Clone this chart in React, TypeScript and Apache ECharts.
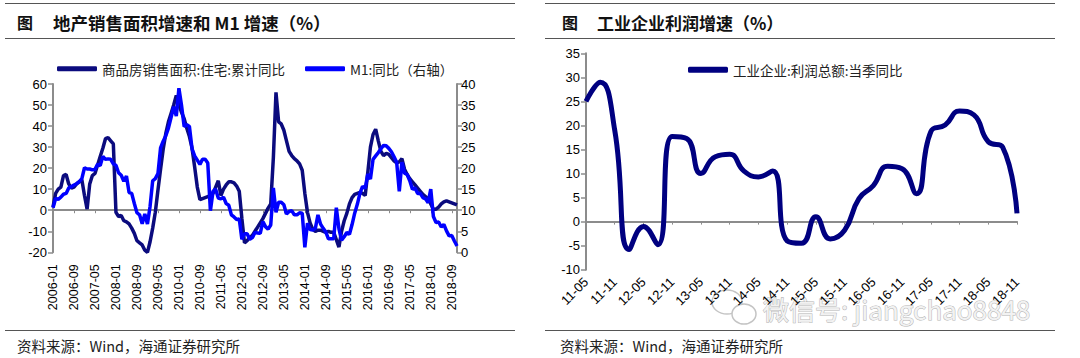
import React, { useEffect, useRef } from "react";
import * as echarts from "echarts";

// ---------- Left chart: 地产销售面积增速 & M1 ----------
const YEARS = ["2006", "2007", "2008", "2009", "2010", "2011", "2012", "2013", "2014", "2015", "2016", "2017", "2018"];
const LAST_MONTH_2018 = 11;
const monthCats: string[] = [];
YEARS.forEach((y) => {
  const n = y === "2018" ? LAST_MONTH_2018 : 12;
  for (let m = 1; m <= n; m++) monthCats.push(`${y}-${m < 10 ? "0" + m : m}`);
});

const DARK_NAME = "商品房销售面积:住宅:累计同比";
const BLUE_NAME = "M1:同比（右轴）";

// 商品房销售面积:住宅:累计同比 (%), left axis
const salesArea = [
  1.5, 8, 10, 11, 16.5, 17, 12.5, 10.5, 11, 12.5, 13.5, 14.5, // 2006
  7, 0.5, 12.5, 16.5, 17.5, 21.5, 25.5, 29.5, 34, 34.5, 33, 31.5, // 2007
  -1, -3, -2.5, -5, -5.5, -6.5, -8.5, -11, -14.5, -15.5, -16.5, -19, // 2008
  -20, -15, -8.5, -1, 9.5, 19.5, 29, 36.5, 42, 46, 50, 54.5, // 2009
  50, 46.5, 43.5, 39, 35, 29.5, 20.5, 11, 5, 5.5, 6, 6.5, // 2010
  7, 8, 11, 14, 7, 10, 12, 13.5, 13.5, 13, 11.5, 9, // 2011
  -4, -15.5, -14.5, -13, -12, -10, -8, -6, -4, -1.5, 1, 3, // 2012
  25, 56, 42, 41, 38, 33, 28, 26, 24.5, 23.5, 22, 19, // 2013
  8, -1, -6, -9, -10, -9.5, -9.5, -10, -10.5, -10, -10.5, -10.5, // 2014
  -14, -17.5, -10, -5, -1.5, 3, 6, 7.5, 8, 8.5, 8, 7, // 2015
  18, 30, 36, 38.5, 33, 28, 26, 27, 26.5, 25, 23.5, 22.5, // 2016
  23, 24.5, 19.5, 17, 15, 13.5, 12, 10.5, 9, 7.5, 6.5, 5.5, // 2017
  3, 0.5, 0.5, 1.5, 3, 4, 4.5, 4, 3.5, 3, 2.5, // 2018
];

// M1:同比 (%), right axis
const m1Yoy = [
  10.6, 12.8, 12.6, 13.1, 13.8, 14.0, 15.3, 15.6, 16.0, 16.3, 16.8, 17.5, // 2006
  20.1, 19.8, 19.8, 19.6, 19.7, 20.9, 20.6, 22.8, 22.1, 22.2, 22.1, 21.0, // 2007
  20.7, 18.9, 18.3, 16.9, 18.1, 14.2, 14.0, 11.6, 9.4, 8.9, 6.8, 9.1, // 2008
  6.7, 10.9, 17.0, 17.5, 18.7, 24.8, 26.4, 27.7, 29.5, 32.0, 34.6, 32.4, // 2009
  39.0, 34.9, 29.9, 30.3, 29.9, 24.6, 22.9, 21.9, 20.9, 22.1, 22.1, 21.2, // 2010
  9.9, 14.5, 15.0, 12.9, 12.7, 13.1, 11.6, 11.2, 8.9, 8.4, 7.8, 7.9, // 2011
  3.1, 4.4, 4.4, 3.1, 3.5, 4.7, 4.6, 4.5, 7.3, 6.1, 5.5, 6.5, // 2012
  15.3, 9.5, 11.9, 11.9, 11.3, 9.1, 9.7, 9.9, 8.9, 8.9, 9.4, 9.3, // 2013
  1.2, 6.9, 5.4, 5.3, 5.7, 8.9, 6.7, 5.7, 4.8, 3.2, 3.2, 3.2, // 2014
  10.6, 5.6, 2.9, 3.7, 4.7, 4.3, 6.6, 9.3, 11.4, 14.0, 15.7, 15.2, // 2015
  18.6, 17.4, 22.1, 22.9, 23.7, 24.6, 25.4, 25.3, 24.7, 23.9, 22.7, 21.4, // 2016
  14.5, 21.4, 18.8, 18.5, 17.0, 15.0, 15.3, 14.0, 14.0, 13.0, 12.7, 11.8, // 2017
  15.0, 8.5, 7.1, 7.2, 6.0, 6.6, 5.1, 3.9, 4.0, 2.7, 1.5, // 2018
];

// ---------- Right chart: 工业企业利润增速 ----------
const PROFIT_NAME = "工业企业:利润总额:当季同比";
const quarterCats = [
  "11-05", "11-08", "11-11", "12-02", "12-05", "12-08", "12-11", "13-02",
  "13-05", "13-08", "13-11", "14-02", "14-05", "14-08", "14-11", "15-02",
  "15-05", "15-08", "15-11", "16-02", "16-05", "16-08", "16-11", "17-02",
  "17-05", "17-08", "17-11", "18-02", "18-05", "18-08", "18-11",
];
const profitYoy = [
  25, 29, 19, -5.8, -1, -4.8, 17.7, 17.3, 10, 13.5, 14, 10.5, 9.3, 10.5, -4, -4.5,
  1, -3.6, -1.8, 4.8, 7.5, 11.5, 11, 5.8, 18.7, 20.1, 23, 22.2, 16.6, 15.5, 1.7,
];

const LEFT_TITLE = "地产销售面积增速和 M1 增速（%）";
const RIGHT_TITLE = "工业企业利润增速（%）";
const SOURCE = "资料来源：Wind，海通证券研究所";
const WATERMARK = "微信号: jiangchao8848";

const FONT = "'Liberation Sans', Arial, 'Noto Sans CJK SC', sans-serif";
const CJK = "'Noto Sans CJK SC', 'Liberation Sans', sans-serif";
const AXIS_GRAY = "#8c8c8c";
const DARK = "#0b0b7e";
const BLUE = "#0000ff";
const NAVY = "#000080";

export default function App() {
  const ref = useRef<HTMLDivElement>(null);
  useEffect(() => {
    if (!ref.current) return;
    const chart = echarts.init(ref.current, undefined, { renderer: "svg" });

    const valueAxisCommon = {
      type: "value",
      axisLine: { show: true, lineStyle: { color: AXIS_GRAY, width: 2 } },
      axisTick: { show: true, length: 5, lineStyle: { color: AXIS_GRAY, width: 1.5 } },
      splitLine: { show: false },
      axisLabel: { fontSize: 13, color: "#000", fontFamily: FONT, margin: 6 },
    };

    const hline = (x1: number, x2: number, y: number, w = 1) => ({
      type: "line",
      shape: { x1, y1: y, x2, y2: y },
      style: { stroke: "#555", lineWidth: w },
      silent: true,
    });

    const option: any = {
      animation: false,
      backgroundColor: "#fff",
      textStyle: { fontFamily: FONT },
      grid: [
        { left: 53, top: 84, width: 404, height: 168.3 },
        { left: 586, top: 53.3, width: 431, height: 216.4 },
      ],
      legend: [
        {
          left: 57, top: 62, padding: 0, itemWidth: 40, itemHeight: 5, icon: "roundRect",
          data: [DARK_NAME], textStyle: { fontSize: 13.5, color: "#222", fontFamily: CJK },
        },
        {
          left: 305, top: 62, padding: 0, itemWidth: 40, itemHeight: 5, icon: "roundRect",
          data: [BLUE_NAME], textStyle: { fontSize: 13.5, color: "#222", fontFamily: CJK },
        },
        {
          left: 688, top: 63, padding: 0, itemWidth: 40, itemHeight: 6, icon: "roundRect",
          data: [PROFIT_NAME], textStyle: { fontSize: 13.5, color: "#222", fontFamily: CJK },
        },
      ],
      xAxis: [
        {
          type: "category", gridIndex: 0, data: monthCats, boundaryGap: false, position: "bottom",
          axisLine: { show: false, onZero: false }, axisTick: { show: false },
          axisLabel: { interval: 7, rotate: 90, margin: 12, fontSize: 12.5, color: "#000", fontFamily: FONT },
        },
        {
          type: "category", gridIndex: 0, data: monthCats, boundaryGap: false, position: "top",
          axisLine: { show: true, onZero: true, onZeroAxisIndex: 0, lineStyle: { color: AXIS_GRAY, width: 2 } },
          axisTick: { show: true, interval: 7, inside: true, length: 3, lineStyle: { color: AXIS_GRAY } },
          axisLabel: { show: false },
        },
        {
          type: "category", gridIndex: 1, data: quarterCats, boundaryGap: false, position: "bottom",
          axisLine: { show: false, onZero: false }, axisTick: { show: false },
          axisLabel: { interval: 1, rotate: 45, margin: 10, fontSize: 13, color: "#000", fontFamily: FONT },
        },
        {
          type: "category", gridIndex: 1, data: quarterCats, boundaryGap: false, position: "top",
          axisLine: { show: true, onZero: true, onZeroAxisIndex: 2, lineStyle: { color: AXIS_GRAY, width: 2 } },
          axisTick: { show: true, interval: 1, inside: true, length: 3, lineStyle: { color: AXIS_GRAY } },
          axisLabel: { show: false },
        },
      ],
      yAxis: [
        { ...valueAxisCommon, gridIndex: 0, position: "left", min: -20, max: 60, interval: 10 },
        { ...valueAxisCommon, gridIndex: 0, position: "right", min: 0, max: 40, interval: 5, axisLabel: { ...valueAxisCommon.axisLabel, margin: 4 } },
        { ...valueAxisCommon, gridIndex: 1, position: "left", min: -10, max: 35, interval: 5 },
      ],
      series: [
        {
          name: DARK_NAME, type: "line", xAxisIndex: 0, yAxisIndex: 0, data: salesArea,
          symbol: "none", lineStyle: { color: DARK, width: 3.5 }, itemStyle: { color: DARK },
        },
        {
          name: BLUE_NAME, type: "line", xAxisIndex: 0, yAxisIndex: 1, data: m1Yoy,
          symbol: "none", lineStyle: { color: BLUE, width: 3.5 }, itemStyle: { color: BLUE },
        },
        {
          name: PROFIT_NAME, type: "line", xAxisIndex: 2, yAxisIndex: 2, data: profitYoy,
          symbol: "none", smooth: 0.5, lineStyle: { color: NAVY, width: 5 }, itemStyle: { color: NAVY },
        },
      ],
      graphic: [
        hline(5, 515, 3.5, 1),
        hline(5, 515, 38.5, 1.2),
        hline(5, 515, 330.5, 1.2),
        hline(545, 1055, 3.5, 1),
        hline(545, 1055, 38.5, 1.2),
        hline(545, 1055, 330.5, 1.2),
        { type: "text", x: 17, y: 22, style: { text: "图", fontSize: 16, fontWeight: "bold", fill: "#111", fontFamily: CJK, verticalAlign: "middle" } },
        { type: "text", x: 53, y: 22, style: { text: LEFT_TITLE, fontSize: 17.5, fontWeight: "bold", fill: "#111", fontFamily: CJK, verticalAlign: "middle" } },
        { type: "text", x: 562, y: 22, style: { text: "图", fontSize: 16, fontWeight: "bold", fill: "#111", fontFamily: CJK, verticalAlign: "middle" } },
        { type: "text", x: 597, y: 22, style: { text: RIGHT_TITLE, fontSize: 17, fontWeight: "bold", fill: "#111", fontFamily: CJK, verticalAlign: "middle" } },
        { type: "text", x: 17, y: 345, style: { text: SOURCE, fontSize: 14.5, fill: "#222", fontFamily: CJK, verticalAlign: "middle" } },
        { type: "text", x: 560, y: 345, style: { text: SOURCE, fontSize: 14.5, fill: "#222", fontFamily: CJK, verticalAlign: "middle" } },
        { type: "ellipse", shape: { cx: 727, cy: 302, rx: 15, ry: 12 }, style: { fill: "none", stroke: "#c4c4c4", lineWidth: 1.5 }, silent: true },
        { type: "ellipse", shape: { cx: 744, cy: 314, rx: 12, ry: 10 }, style: { fill: "#fff", stroke: "#c4c4c4", lineWidth: 1.5 }, silent: true },
        { type: "text", x: 763, y: 308, style: { text: WATERMARK, fontSize: 26, fill: "#f2f2f2", stroke: "#b4b4b4", lineWidth: 1, fontFamily: CJK, verticalAlign: "middle" }, silent: true },
      ],
    };

    chart.setOption(option);
    return () => chart.dispose();
  }, []);

  return (
    <div
      ref={ref}
      style={{ position: "absolute", left: 0, top: 0, width: 1080, height: 358, background: "#fff" }}
    />
  );
}
